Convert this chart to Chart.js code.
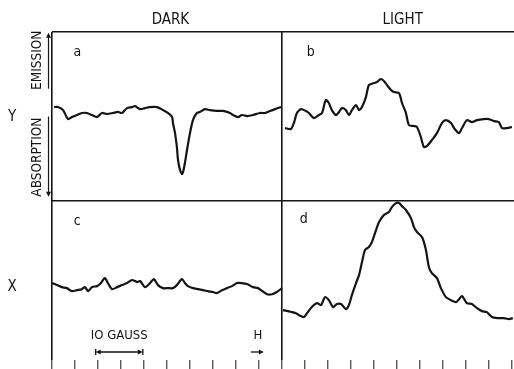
<!DOCTYPE html>
<html>
<head>
<meta charset="utf-8">
<script src="https://cdn.jsdelivr.net/npm/chart.js@4"></script>
<style>
  html, body { margin: 0; padding: 0; background: #fff; }
  canvas { display: block; }
</style>
</head>
<body>
<canvas id="esr" width="514" height="369"></canvas>
<script>
// field position in tick divisions (1 division = 5 gauss), panels dark 0-10, light 10-20
// signal read per panel on a 0-100 scale (top edge of the panel = 100)
const aX = [0.09,0.26,0.48,0.70,0.87,1.09,1.30,1.52,1.74,1.96,2.17,2.39,2.65,2.87,3.04,3.26,3.48,3.61,3.83,4.04,4.26,4.57,4.83,5.04,5.22,5.26,5.35,5.43,5.48,5.57,5.65,5.70,5.78,5.87,6.00,6.13,6.30,6.43,6.65,6.87,7.17,7.43,7.74,7.87,8.09,8.26,8.48,8.74,9.04,9.26,9.48,9.70,9.96];
const aY = [55.6,55.6,53.8,48.5,49.7,50.9,52.1,52.1,50.9,49.7,52.1,51.5,52.1,52.7,52.1,55.0,55.6,56.2,54.4,55.0,55.6,55.6,53.8,52.1,49.7,46.2,40.2,32.0,24.3,18.3,16.0,17.2,22.5,30.2,40.2,47.9,52.1,52.7,54.4,53.8,53.3,53.3,52.1,50.9,49.7,50.9,50.3,50.9,52.1,52.1,53.3,54.4,55.6];

const bX = [10.13,10.39,10.52,10.65,10.83,11.04,11.17,11.39,11.61,11.74,11.91,12.04,12.17,12.35,12.48,12.61,12.78,12.91,13.04,13.22,13.35,13.48,13.65,13.78,14.00,14.13,14.30,14.43,14.57,14.74,14.87,15.09,15.22,15.39,15.52,15.74,15.87,16.04,16.17,16.30,16.52,16.74,16.96,17.13,17.35,17.48,17.70,17.83,18.04,18.26,18.48,18.78,19.00,19.22,19.43,19.57,19.78,20.00];
const bY = [43.2,42.6,46.2,52.1,54.4,53.3,52.1,49.1,50.9,52.1,59.8,58.0,53.8,50.9,52.7,55.0,53.8,50.9,53.8,56.8,53.8,55.6,61.5,68.6,69.8,70.4,72.2,71.0,68.6,65.7,64.5,63.9,58.0,52.1,45.0,44.4,43.8,37.9,32.0,32.5,36.1,40.2,46.2,47.9,46.2,43.2,40.2,43.2,47.9,46.7,47.9,48.5,48.5,47.3,46.7,43.2,43.2,43.8];

const cX = [0.00,0.22,0.43,0.65,0.87,1.09,1.30,1.43,1.57,1.74,1.96,2.09,2.30,2.43,2.61,2.83,3.04,3.26,3.48,3.70,3.83,4.04,4.26,4.43,4.61,4.83,5.04,5.26,5.43,5.65,5.78,5.91,6.13,6.35,6.57,6.78,7.00,7.17,7.39,7.61,7.83,8.04,8.26,8.48,8.74,8.96,9.09,9.35,9.57,9.78,10.00];
const cY = [51.5,50.3,49.1,48.5,46.7,47.3,47.9,49.1,46.7,49.1,49.7,50.9,54.4,51.5,47.9,49.1,50.3,51.5,53.3,52.1,52.7,49.1,51.5,53.8,50.3,48.5,48.5,48.5,50.3,53.8,51.5,49.7,48.5,47.9,47.3,46.7,46.2,45.6,47.3,48.5,49.7,51.5,51.5,50.9,49.1,48.5,47.3,44.9,44.9,46.2,48.5];

const dX = [10.04,10.26,10.43,10.61,10.74,10.96,11.09,11.30,11.52,11.70,11.87,12.04,12.22,12.39,12.57,12.78,12.91,13.04,13.22,13.35,13.48,13.61,13.78,13.91,14.09,14.22,14.43,14.65,14.78,14.96,15.09,15.22,15.39,15.61,15.74,15.87,16.09,16.26,16.39,16.52,16.74,16.91,17.13,17.35,17.57,17.70,17.83,18.04,18.26,18.48,18.70,18.91,19.13,19.39,19.65,19.87,20.04];
const dY = [35.5,34.9,34.3,33.7,32.5,31.4,33.7,37.3,39.6,38.5,43.2,41.4,37.3,39.1,39.1,36.1,38.5,44.4,51.5,56.2,63.9,71.0,72.8,75.7,82.8,87.6,91.7,93.5,96.4,98.8,98.8,97.0,94.7,89.9,84.6,81.7,78.7,71.0,60.9,57.4,54.4,48.5,43.2,41.4,40.2,42.0,43.8,39.6,39.1,36.7,34.9,34.3,31.4,30.8,30.8,30.2,30.8];

const xTicks = [0,1,2,3,4,5,6,7,8,9,10,11,12,13,14,15,16,17,18,19,20];
const columnTitles = ['DARK', 'LIGHT'];
const rowTitles = ['Y', 'X'];
const panelLetters = ['a', 'b', 'c', 'd'];

const ink = '#141414';
const narrow = '"Liberation Sans Narrow", "DejaVu Sans Condensed", "Arial Narrow", sans-serif';

// top row is shifted up by 100 on the shared y axis
function pts(xs, ys, shift) {
  return xs.map((x, i) => ({ x: x, y: ys[i] + shift }));
}

function trace(data) {
  return {
    data: data,
    borderColor: ink,
    borderWidth: 2.2,
    pointRadius: 0,
    tension: 0.25,
    fill: false
  };
}

function arrowHead(ctx, x, y, dir) {
  // dir: 'up' | 'down' | 'left' | 'right'
  ctx.beginPath();
  if (dir === 'up') { ctx.moveTo(x, y); ctx.lineTo(x - 2.5, y + 5); ctx.lineTo(x + 2.5, y + 5); }
  if (dir === 'down') { ctx.moveTo(x, y); ctx.lineTo(x - 2.5, y - 5); ctx.lineTo(x + 2.5, y - 5); }
  if (dir === 'left') { ctx.moveTo(x, y); ctx.lineTo(x + 5, y - 2.5); ctx.lineTo(x + 5, y + 2.5); }
  if (dir === 'right') { ctx.moveTo(x, y); ctx.lineTo(x - 5, y - 2.5); ctx.lineTo(x - 5, y + 2.5); }
  ctx.closePath();
  ctx.fill();
}

const decor = {
  id: 'decor',
  afterDraw(chart) {
    const { ctx, chartArea: ca, scales: { x, y } } = chart;
    ctx.save();
    ctx.fillStyle = ink;
    ctx.strokeStyle = ink;
    ctx.textAlign = 'center';
    ctx.textBaseline = 'middle';

    // column titles
    ctx.font = '15px ' + narrow;
    ctx.fillText(columnTitles[0], x.getPixelForValue(5.15), ca.top - 12);
    ctx.fillText(columnTitles[1], x.getPixelForValue(15.25), ca.top - 12);

    // row titles
    ctx.font = '15px ' + narrow;
    ctx.fillText(rowTitles[0], 12, y.getPixelForValue(149.5));
    ctx.fillText(rowTitles[1], 12, y.getPixelForValue(49));

    // panel letters
    ctx.font = '14px ' + narrow;
    ctx.fillText(panelLetters[0], x.getPixelForValue(1.1), y.getPixelForValue(188));
    ctx.fillText(panelLetters[1], x.getPixelForValue(11.25), y.getPixelForValue(188));
    ctx.fillText(panelLetters[2], x.getPixelForValue(1.1), y.getPixelForValue(88));
    ctx.fillText(panelLetters[3], x.getPixelForValue(10.95), y.getPixelForValue(89));

    // EMISSION / ABSORPTION with arrows
    ctx.font = '13.5px ' + narrow;
    ctx.save();
    ctx.translate(37, y.getPixelForValue(183.3));
    ctx.rotate(-Math.PI / 2);
    ctx.fillText('EMISSION', 0, 0);
    ctx.restore();
    ctx.save();
    ctx.translate(37, y.getPixelForValue(126));
    ctx.rotate(-Math.PI / 2);
    ctx.fillText('ABSORPTION', 0, 0);
    ctx.restore();

    ctx.lineWidth = 1.2;
    const ax = 48.5;
    let y0 = y.getPixelForValue(199.5), y1 = y.getPixelForValue(166.5);
    ctx.beginPath(); ctx.moveTo(ax, y0 + 3); ctx.lineTo(ax, y1); ctx.stroke();
    arrowHead(ctx, ax, y0, 'up');
    y0 = y.getPixelForValue(150); y1 = y.getPixelForValue(102.5);
    ctx.beginPath(); ctx.moveTo(ax, y0); ctx.lineTo(ax, y1 - 3); ctx.stroke();
    arrowHead(ctx, ax, y1, 'down');

    // 10 gauss bar, two divisions wide
    const gy = ca.bottom - 8;
    const g0 = x.getPixelForValue(1.9), g1 = x.getPixelForValue(3.95);
    ctx.font = '13px ' + narrow;
    ctx.fillText('IO GAUSS', (g0 + g1) / 2, gy - 16);
    ctx.lineWidth = 1.3;
    ctx.beginPath(); ctx.moveTo(g0 + 3, gy); ctx.lineTo(g1 - 3, gy); ctx.stroke();
    arrowHead(ctx, g0, gy, 'left');
    arrowHead(ctx, g1, gy, 'right');
    ctx.beginPath();
    ctx.moveTo(g0, gy - 3); ctx.lineTo(g0, gy + 3);
    ctx.moveTo(g1, gy - 3); ctx.lineTo(g1, gy + 3);
    ctx.stroke();

    // field direction
    const hx = x.getPixelForValue(8.95);
    ctx.fillText('H', hx, gy - 16);
    ctx.beginPath(); ctx.moveTo(hx - 7, gy); ctx.lineTo(hx + 3, gy); ctx.stroke();
    arrowHead(ctx, hx + 6, gy, 'right');

    ctx.restore();
  }
};

new Chart(document.getElementById('esr'), {
  type: 'line',
  data: {
    datasets: [
      trace(pts(aX, aY, 100)),
      trace(pts(bX, bY, 100)),
      trace(pts(cX, cY, 0)),
      trace(pts(dX, dY, 0))
    ]
  },
  options: {
    responsive: false,
    animation: false,
    events: [],
    layout: { padding: { left: 52, top: 32, right: 0, bottom: 0 } },
    plugins: { legend: { display: false }, tooltip: { enabled: false } },
    scales: {
      x: {
        type: 'linear',
        min: 0,
        max: 20.09,
        afterBuildTicks: s => { s.ticks = xTicks.map(v => ({ value: v })); },
        ticks: { display: false },
        border: { display: false },
        grid: {
          color: c => (c.tick && (c.tick.value === 0 || c.tick.value === 10)) ? ink : 'rgba(0,0,0,0)',
          lineWidth: 1.6,
          drawTicks: true,
          tickLength: 9,
          tickColor: ink,
          tickWidth: 1
        }
      },
      y: {
        type: 'linear',
        min: 6,
        max: 200,
        afterBuildTicks: s => { s.ticks = [{ value: 100 }, { value: 200 }]; },
        ticks: { display: false },
        border: { display: false },
        grid: { color: ink, lineWidth: 1.6, drawTicks: false }
      }
    }
  },
  plugins: [decor]
});
</script>
</body>
</html>
